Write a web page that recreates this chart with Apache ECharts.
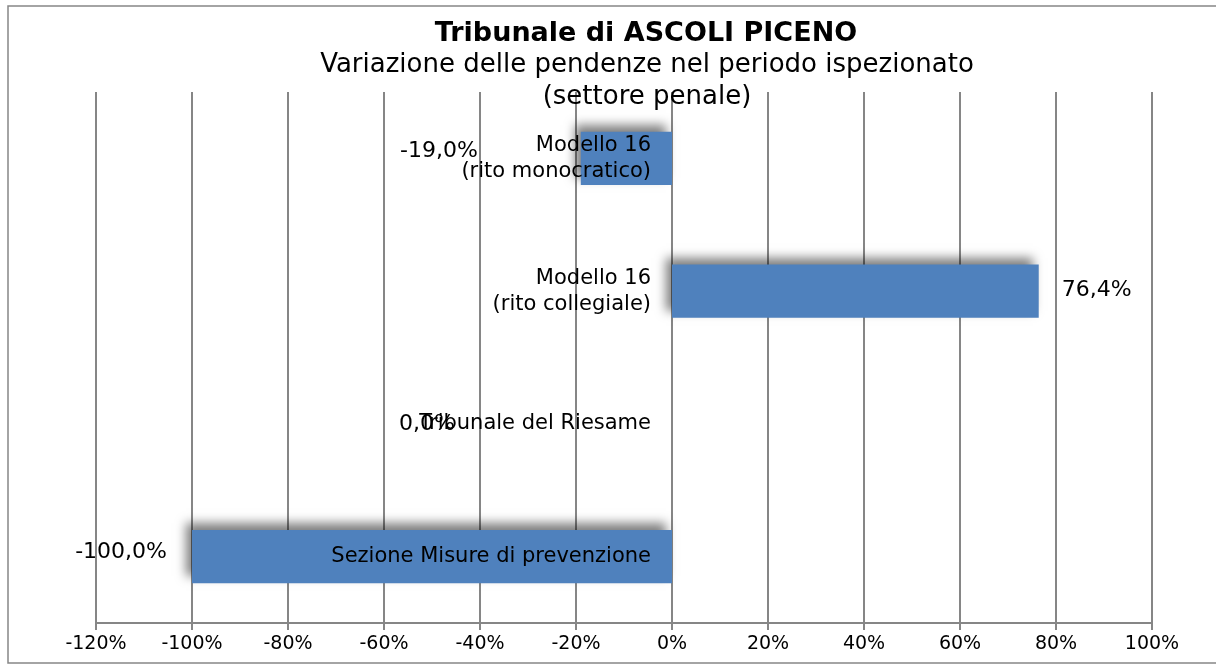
<!DOCTYPE html>
<html>
<head>
<meta charset="utf-8">
<script src="https://cdn.jsdelivr.net/npm/echarts@6/dist/echarts.min.js"></script>
<style>
  html, body { margin: 0; padding: 0; background: #fff; }
  #chart { width: 1216px; height: 664px; }
</style>
</head>
<body>
<div id="chart"></div>
<script>
// categories, top to bottom as in the picture
const categories = [
  'Modello 16\n(rito monocratico)',
  'Modello 16\n(rito collegiale)',
  'Tribunale del Riesame',
  'Sezione Misure di prevenzione'
]
// variazione %
const values = [-19.0, 76.4, 0.0, -100.0]
const xTicks = [-120, -100, -80, -60, -40, -20, 0, 20, 40, 60, 80, 100]

// where Excel dropped each value label (side, distance from bar end, dy)
const labelPlace = [
  ['left', 103, -7],
  ['right', 23, -1],
  ['left', 217, 0],
  ['left', 25, -4]
]

const font = 'DejaVu Sans, Verdana, sans-serif'
const grey = '#868686'

const W = 1216
const gridL = 96, gridR = 64
const xMin = xTicks[0], xMax = xTicks[xTicks.length - 1]
// category labels hang off the 0% line, so shift the y axis there
const zeroShift = (0 - xMin) / (xMax - xMin) * (W - gridL - gridR)

const chart = echarts.init(document.getElementById('chart'))

const seriesData = values.map((v, i) => ({
  value: v,
  label: {
    position: labelPlace[i][0],
    distance: labelPlace[i][1],
    offset: [0, labelPlace[i][2]]
  }
}))

chart.setOption({
  animation: false,
  title: [
    {
      text: 'Tribunale di ASCOLI PICENO',
      left: 641,
      top: 15,
      textAlign: 'center',
      textStyle: { fontFamily: font, fontSize: 27, fontWeight: 'bold', color: '#000' }
    },
    {
      text: 'Variazione delle pendenze nel periodo ispezionato\n(settore penale)',
      left: 642,
      top: 44,
      textAlign: 'center',
      textStyle: { fontFamily: font, fontSize: 26, fontWeight: 'normal', color: '#000', lineHeight: 32 }
    }
  ],
  graphic: [
    {
      type: 'rect',
      shape: { x: 8, y: 6, width: 1240, height: 657 },
      style: { fill: null, stroke: grey, lineWidth: 1.5 },
      silent: true
    }
  ],
  grid: {
    left: gridL, right: gridR, top: 92, bottom: 41,
    containLabel: false,
    outerBoundsMode: 'none'
  },
  xAxis: {
    type: 'value',
    min: xMin,
    max: xMax,
    interval: 20,
    axisLine: { show: true, lineStyle: { color: grey, width: 2 } },
    axisTick: { show: true, length: 7, lineStyle: { color: grey, width: 2 } },
    axisLabel: {
      formatter: '{value}%',
      fontFamily: font,
      fontSize: 19,
      color: '#000',
      margin: 12
    },
    splitLine: { show: true, lineStyle: { color: grey, width: 2 } }
  },
  yAxis: {
    type: 'category',
    inverse: true,
    data: categories,
    position: 'left',
    offset: -zeroShift,
    z: 10,
    axisLine: { show: false },
    axisTick: { show: false },
    axisLabel: {
      fontFamily: font,
      fontSize: 21,
      lineHeight: 26,
      color: '#000',
      margin: 21,
      align: 'right',
      padding: [4, 0, 0, 0]
    }
  },
  series: [
    {
      type: 'bar',
      data: seriesData,
      barCategoryGap: '60%',
      itemStyle: {
        color: '#4F81BD',
        shadowColor: 'rgba(0,0,0,0.5)',
        shadowBlur: 10,
        shadowOffsetX: -6,
        shadowOffsetY: -7
      },
      label: {
        show: true,
        fontFamily: font,
        fontSize: 22,
        color: '#000',
        formatter: p => p.value.toFixed(1).replace('.', ',') + '%'
      }
    }
  ]
})
</script>
</body>
</html>
